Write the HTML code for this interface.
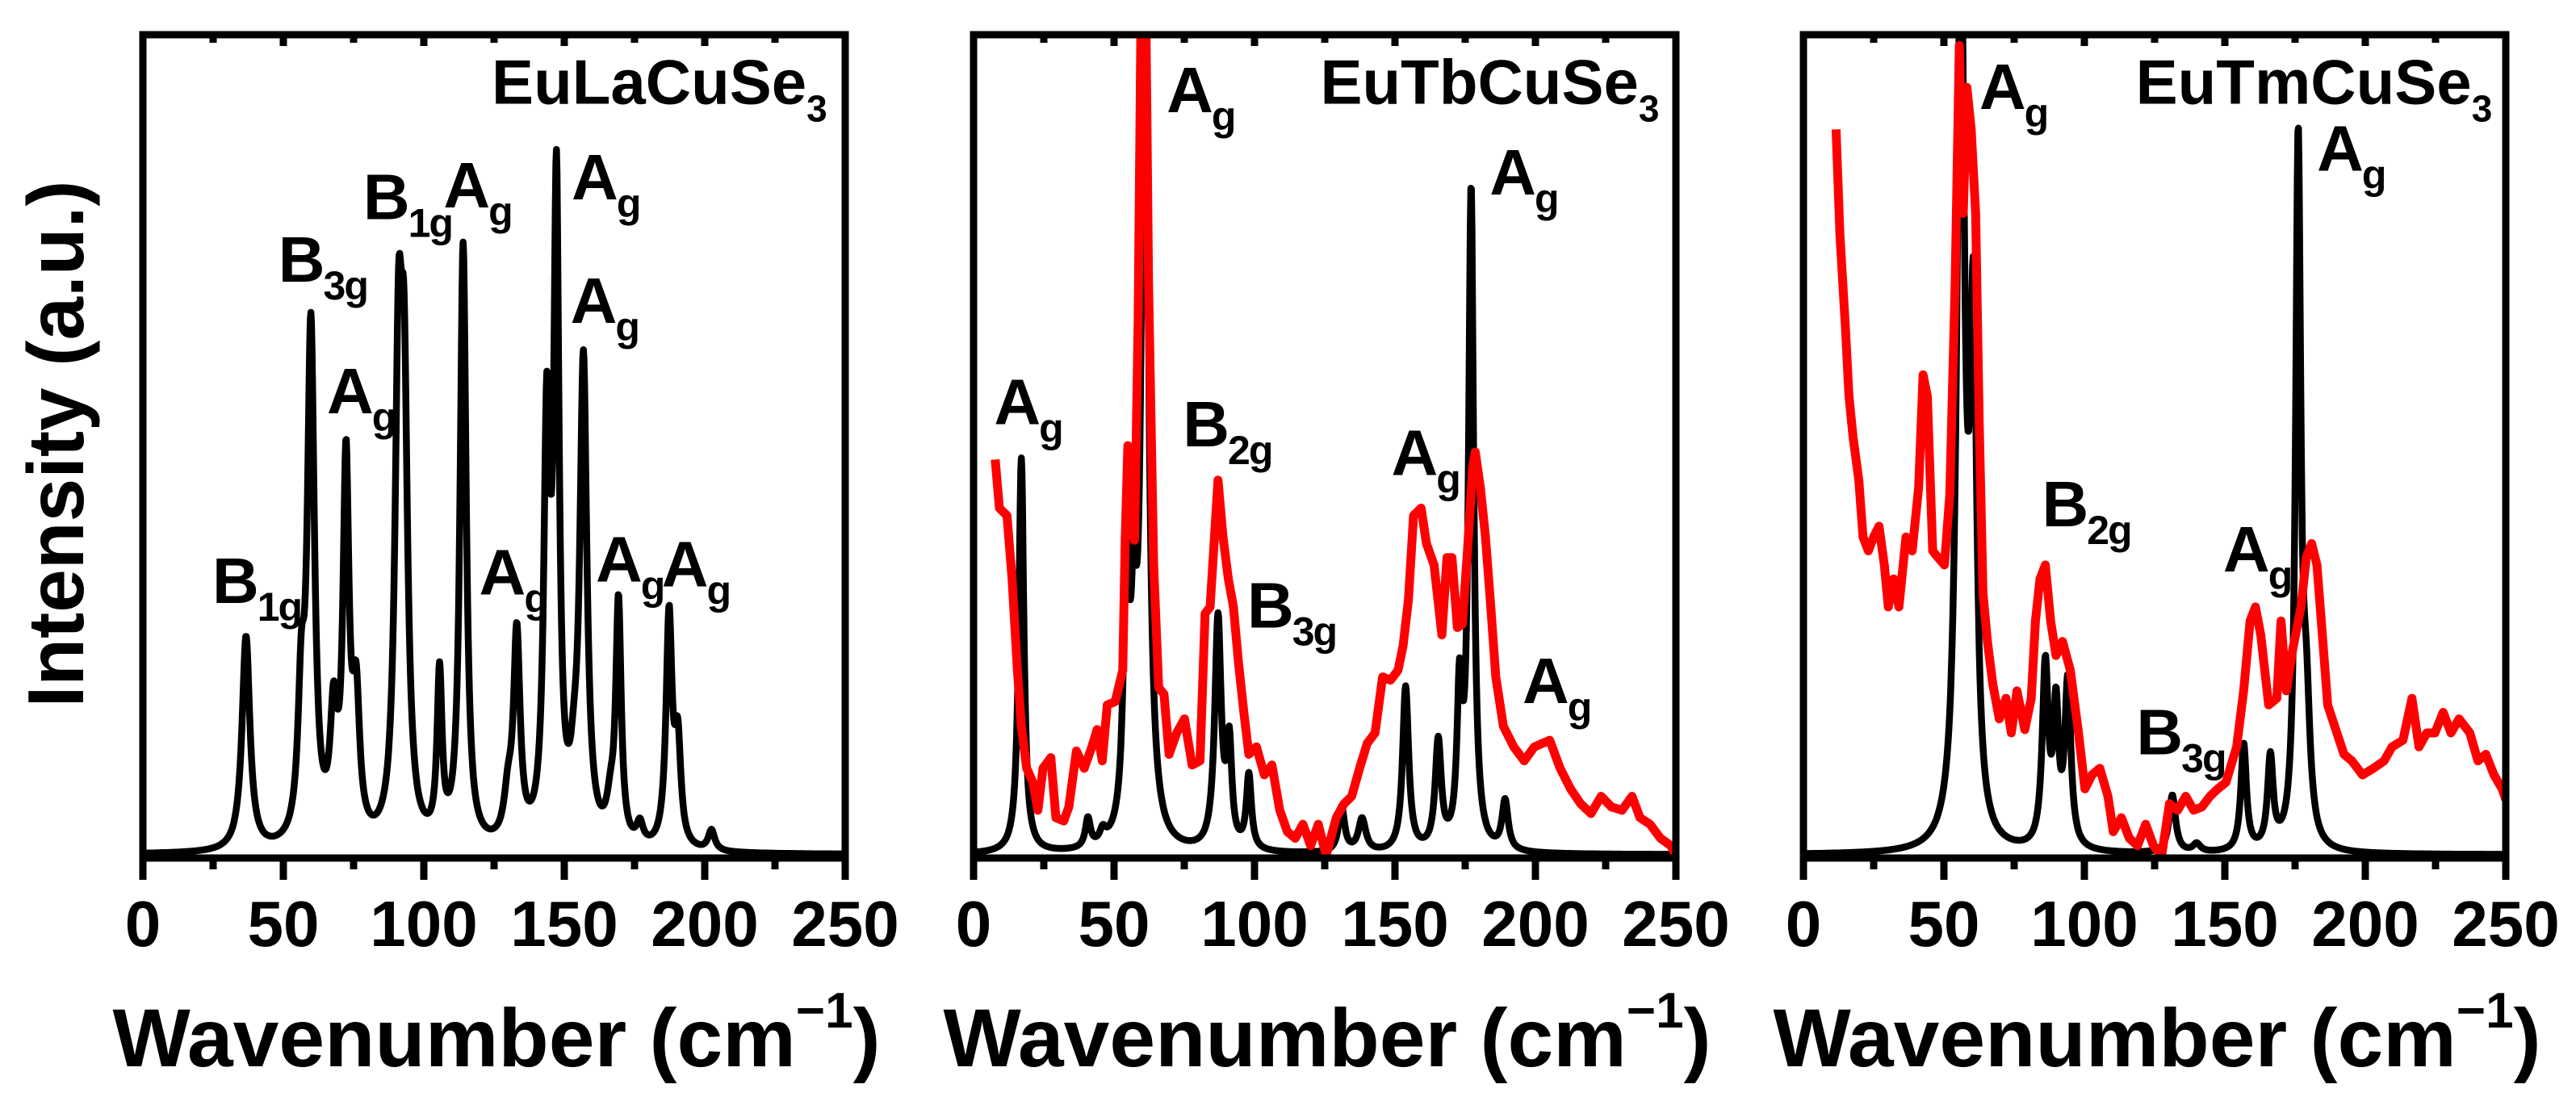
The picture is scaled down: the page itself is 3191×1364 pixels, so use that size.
<!DOCTYPE html>
<html><head><meta charset="utf-8"><style>
html,body{margin:0;padding:0;background:#fff}
svg{display:block}
text{font-family:"Liberation Sans",sans-serif;font-weight:bold;fill:#000}
</style></head><body>
<svg id="chart" width="3191" height="1364" viewBox="0 0 3191 1364" xmlns="http://www.w3.org/2000/svg">
<text x="0" y="0" font-size="98" text-anchor="middle" textLength="653" lengthAdjust="spacingAndGlyphs" transform="translate(103,550) rotate(-90)">Intensity (a.u.)</text>
</svg>
<script>
// ---------- data ----------
const xTicks = [0, 50, 100, 150, 200, 250];
const panelTitles = ["EuLaCuSe", "EuTbCuSe", "EuTmCuSe"];

// Panel 1 (EuLaCuSe3) black calculated spectrum: peak centers / amplitudes / half-widths
const p1Centers = [36.7,56.4,59.8,67.9,72.3,75.9,91.0,93.0,105.6,114.0,130.0,133.1,143.8,147.2,153.5,156.8,166.5,169.3,176.9,187.3,190.4,202.4];
const p1Amps    = [0.26,0.16,0.62,0.14,0.45,0.16,0.53,0.48,0.20,0.73,0.05,0.25,0.49,0.77,0.05,0.58,0.04,0.29,0.025,0.28,0.12,0.025];
const p1Widths  = [1.7,1.4,1.5,1.5,1.3,1.5,1.5,1.5,1.05,1.3,1.7,1.4,1.3,1.15,1.7,1.5,1.7,1.15,1.4,1.3,1.3,1.4];

// Panel 2 (EuTbCuSe3) black
const p2Centers = [17.0,40.7,46.0,54.4,57.0,61.0,87.0,91.0,98.0,131.0,138.3,153.8,165.4,173.0,177.1,189.2];
const p2Amps    = [0.48,0.035,0.015,0.30,0.20,1.15,0.28,0.12,0.09,0.055,0.04,0.20,0.13,0.18,0.80,0.06];
const p2Widths  = [1.1,1.1,1.3,1.3,1.1,1.4,1.4,1.1,1.1,1.3,1.6,1.3,1.3,1.1,1.1,1.3];

// Panel 2 red experimental spectrum
const p2RedX = [7.7,9.2,11.9,13.7,15.6,17.0,18.9,21.1,22.9,24.7,27.5,29.3,32.1,33.9,36.6,39.4,42.1,44.0,45.8,47.6,50.4,53.1,54.0,54.9,55.9,57.3,58.6,59.5,61.4,62.3,64.1,65.9,67.8,69.6,72.3,75.1,77.8,80.6,82.4,84.2,87.0,88.8,90.7,92.5,94.3,96.2,98.0,100.7,103.5,106.2,109.0,111.7,114.5,117.2,120.0,122.7,125.5,129.1,131.9,134.6,137.4,140.1,142.9,145.6,148.4,151.1,152.9,154.8,156.6,159.3,161.2,163.9,166.7,168.5,170.3,172.2,174.0,175.8,177.7,178.6,180.4,182.2,184.1,185.9,188.6,192.3,196.0,199.6,205.1,208.8,212.5,216.1,219.8,223.4,227.1,230.8,234.4,237.2,240.8,244.5,248.2,250.0];
const p2RedY = [0.484,0.425,0.416,0.339,0.228,0.160,0.109,0.092,0.058,0.109,0.122,0.049,0.045,0.062,0.130,0.109,0.135,0.156,0.118,0.186,0.190,0.228,0.390,0.501,0.442,0.386,0.655,0.996,1.0,0.697,0.356,0.207,0.199,0.126,0.152,0.169,0.113,0.118,0.297,0.305,0.459,0.390,0.339,0.305,0.237,0.177,0.126,0.135,0.101,0.113,0.058,0.032,0.024,0.041,0.015,0.041,0.003,0.049,0.066,0.075,0.109,0.139,0.152,0.220,0.216,0.228,0.258,0.314,0.416,0.425,0.382,0.356,0.271,0.365,0.365,0.280,0.284,0.373,0.476,0.493,0.450,0.390,0.305,0.220,0.160,0.135,0.118,0.135,0.143,0.109,0.084,0.066,0.054,0.075,0.062,0.058,0.075,0.049,0.041,0.024,0.015,0.003];

// Panel 3 (EuTmCuSe3) black
const p3Centers = [56.0,60.5,86.1,89.9,94.1,131.3,140.0,156.7,166.2,176.1,179.0];
const p3Amps    = [1.10,0.60,0.22,0.16,0.20,0.07,0.01,0.13,0.11,0.85,0.15];
const p3Widths  = [1.6,1.4,1.3,1.1,1.3,1.4,1.6,1.2,1.2,1.1,1.6];

// Panel 3 red
const p3RedX = [11.6,13.0,14.9,16.2,17.7,19.7,21.2,23.1,25.0,26.9,28.8,30.2,32.1,34.0,36.5,38.7,41.0,42.6,44.1,46.0,47.9,50.2,52.1,54.0,55.5,56.9,58.2,59.7,61.3,62.6,63.9,65.5,67.4,69.7,72.1,74.0,76.0,78.8,81.1,82.6,84.2,86.1,88.0,89.9,92.2,95.0,97.9,100.2,102.7,105.5,108.4,110.3,113.2,116.0,118.9,121.8,124.6,127.5,130.3,133.2,136.1,138.9,141.8,144.7,147.5,150.4,154.2,156.7,159.0,160.9,162.8,165.6,168.5,170.0,171.9,174.2,177.1,179.0,180.9,182.8,184.7,186.6,189.1,192.4,195.2,199.0,202.9,206.7,209.5,213.4,216.6,219.1,221.9,224.8,227.7,230.5,233.4,237.2,240.1,242.9,245.8,248.7,250.0];
const p3RedY = [0.885,0.757,0.646,0.561,0.510,0.459,0.390,0.373,0.390,0.403,0.356,0.305,0.339,0.305,0.390,0.373,0.450,0.587,0.561,0.373,0.365,0.356,0.442,0.697,0.987,0.783,0.936,0.885,0.783,0.527,0.322,0.263,0.211,0.169,0.194,0.152,0.203,0.156,0.194,0.288,0.339,0.356,0.288,0.246,0.263,0.228,0.152,0.084,0.101,0.109,0.075,0.032,0.049,0.024,0.015,0.041,0.015,0.003,0.066,0.058,0.075,0.058,0.062,0.075,0.084,0.092,0.135,0.203,0.288,0.305,0.271,0.186,0.194,0.288,0.203,0.254,0.305,0.365,0.382,0.356,0.271,0.186,0.160,0.126,0.118,0.101,0.109,0.118,0.135,0.143,0.194,0.135,0.152,0.152,0.177,0.152,0.169,0.152,0.118,0.126,0.101,0.084,0.071];

// Peak labels: main letter, subscript, x (cm-1) of left edge, intensity of baseline
const p1LabelMain = ["B","B","A","B","A","A","A","A","A","A"];
const p1LabelSub  = ["1g","3g","g","1g","g","g","g","g","g","g"];
const p1LabelX    = [24.7,48.2,65.5,78.4,107.0,119.7,152.6,152.2,161.2,184.7];
const p1LabelY    = [0.31,0.70,0.54,0.776,0.79,0.32,0.80,0.65,0.336,0.33];

const p2LabelMain = ["A","A","B","B","A","A","A"];
const p2LabelSub  = ["g","g","2g","3g","g","g","g"];
const p2LabelX    = [7.3,68.7,74.5,97.4,148.7,183.7,195.4];
const p2LabelY    = [0.527,0.906,0.50,0.28,0.465,0.806,0.188];

const p3LabelMain = ["A","B","B","A","A"];
const p3LabelSub  = ["g","2g","3g","g","g"];
const p3LabelX    = [62.6,84.9,118.5,149.4,182.8];
const p3LabelY    = [0.91,0.403,0.126,0.348,0.835];

// ---------- drawing ----------
const NS = "http://www.w3.org/2000/svg";
const svg = document.getElementById("chart");
const panelLeft = [177, 1206, 2234];
const PW = 870, TOP = 43, BOT = 1063;

function mk(tag, attrs, parent) {
  const e = document.createElementNS(NS, tag);
  for (const k in attrs) e.setAttribute(k, attrs[k]);
  (parent || svg).appendChild(e);
  return e;
}
function lorentz(centers, amps, widths, x) {
  let s = 0.004;
  for (let i = 0; i < centers.length; i++) {
    const g = widths[i], d = x - centers[i];
    s += amps[i] * g * g / (d * d + g * g);
  }
  return s;
}

function drawPanel(pi, centers, amps, widths, redX, redY, lMain, lSub, lX, lY) {
  const L = panelLeft[pi];
  const xs = v => L + v / 250 * PW;
  const ys = v => BOT - v * (BOT - TOP);
  const g = mk("g", {});
  
  
  const cp = mk("clipPath", { id: "clip" + pi }, g);
  mk("rect", { x: L, y: TOP, width: PW, height: BOT - TOP }, cp);

  let d = "";
  for (let x = 0; x <= 250; x += 0.2) {
    d += (d ? "L" : "M") + xs(x).toFixed(1) + "," + ys(lorentz(centers, amps, widths, x)).toFixed(1);
  }
  const blk = mk("path", { d: d, fill: "none", stroke: "#000", "stroke-width": 8.5, "stroke-linejoin": "round", "clip-path": "url(#clip" + pi + ")" }, g);
  
  

  if (redX) {
    let r = "";
    for (let i = 0; i < redX.length; i++) r += (i ? "L" : "M") + xs(redX[i]).toFixed(1) + "," + ys(redY[i]).toFixed(1);
    const red = mk("path", { d: r, fill: "none", stroke: "#ff0000", "stroke-width": 11, "stroke-linejoin": "round", "clip-path": "url(#clip" + pi + ")" }, g);
    
    
  }

  const fr = mk("rect", { x: L, y: TOP, width: PW, height: BOT - TOP, fill: "none", stroke: "#000", "stroke-width": 9 }, g);
  
  

  for (let v = 0; v <= 250; v += 25) {
    const major = v % 50 === 0;
    const x = xs(v);
    const t1 = mk("line", { x1: x, x2: x, y1: BOT, y2: BOT + (major ? 27 : 14), stroke: "#000", "stroke-width": 9 }, g);
    
    
    const t2 = mk("line", { x1: x, x2: x, y1: TOP, y2: TOP + (major ? 14 : 10), stroke: "#000", "stroke-width": 9 }, g);
    
    
  }
  xTicks.forEach(v => {
    const t = mk("text", { x: xs(v), y: 1172, "font-size": 80, "text-anchor": "middle" }, g);
    
    
    t.textContent = v;
  });

  const xt = mk("text", { x: L + 435 + 3, y: 1321, "font-size": 102, "text-anchor": "middle" }, g);
  
  
  xt.appendChild(document.createTextNode("Wavenumber (cm"));
  const sup = mk("tspan", { "font-size": 62, dy: -48 }, xt);
  sup.textContent = "\u22121";
  const cl = mk("tspan", { dy: 48 }, xt);
  cl.textContent = ")";

  const tt = mk("text", { x: xs(pi === 0 ? 243.6 : (pi === 1 ? 244.1 : 245.2)), y: ys(0.916), "font-size": 78, "text-anchor": "end" }, g);
  
  
  tt.appendChild(document.createTextNode(panelTitles[pi]));
  const s3 = mk("tspan", { "font-size": 46, dy: 22 }, tt);
  s3.textContent = "3";

  for (let i = 0; i < lMain.length; i++) {
    const t = mk("text", { x: xs(lX[i]), y: ys(lY[i]), "font-size": 80, "letter-spacing": -2 }, g);
    
    
    t.appendChild(document.createTextNode(lMain[i]));
    const s = mk("tspan", { "font-size": 50, dy: 22 }, t);
    s.textContent = lSub[i];
  }
}

drawPanel(0, p1Centers, p1Amps, p1Widths, null, null, p1LabelMain, p1LabelSub, p1LabelX, p1LabelY);
drawPanel(1, p2Centers, p2Amps, p2Widths, p2RedX, p2RedY, p2LabelMain, p2LabelSub, p2LabelX, p2LabelY);
drawPanel(2, p3Centers, p3Amps, p3Widths, p3RedX, p3RedY, p3LabelMain, p3LabelSub, p3LabelX, p3LabelY);
</script>
</body></html>
